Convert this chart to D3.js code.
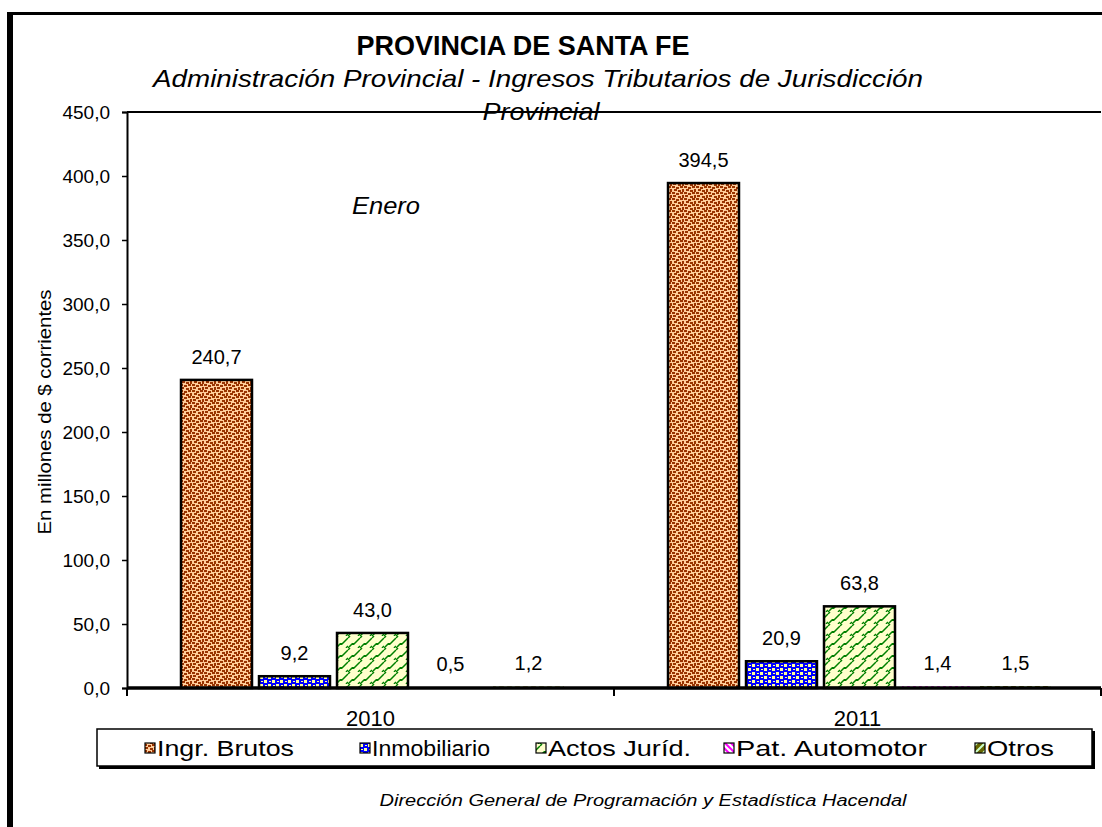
<!DOCTYPE html>
<html><head><meta charset="utf-8">
<script src="https://cdn.jsdelivr.net/npm/d3@7"></script>
<style>body{margin:0;background:#fff}svg{display:block}text{font-family:"Liberation Sans",Arial,sans-serif;fill:#000}</style>
</head><body>
<script>
const categories = ["2010", "2011"];
const series = ["Ingr. Brutos", "Inmobiliario", "Actos Juríd.", "Pat. Automotor", "Otros"];
const values2010 = [240.7, 9.2, 43.0, 0.5, 1.2];
const values2011 = [394.5, 20.9, 63.8, 1.4, 1.5];
const yTicks = [0, 50, 100, 150, 200, 250, 300, 350, 400, 450];
const title = "PROVINCIA DE SANTA FE";
const subtitle1 = "Administración Provincial - Ingresos Tributarios de Jurisdicción";
const subtitle2 = "Provincial";
const yLabel = "En millones de $ corrientes";
const note = "Enero";
const source = "Dirección General de Programación y Estadística Hacendal";

const W = 1102, H = 827;
const svg = d3.select("body").append("svg").attr("width", W).attr("height", H);
const defs = svg.append("defs");

// patterns
function pat(id, w, h, bg, draw) {
  const p = defs.append("pattern").attr("id", id).attr("patternUnits", "userSpaceOnUse").attr("width", w).attr("height", h);
  p.append("rect").attr("width", w).attr("height", h).attr("fill", bg);
  draw(p);
}
pat("pIngr", 12, 12, "#FFCC99", p => {
  [[0,0,3,2],[4,1,3,2],[8,0,3,2],[1,3,3,2],[6,4,3,2],[10,3,2,3],[0,6,3,2],[4,7,3,2],[8,6,3,2],[2,9,3,2],[6,10,3,2],[10,9,2,3]]
    .forEach(r => p.append("rect").attr("x", r[0]).attr("y", r[1]).attr("width", r[2]).attr("height", r[3]).attr("fill", "#993300"));
});
pat("pInmo", 8, 8, "#0000FF", p => {
  [[0,0,3,3],[4,4,3,3],[5,1,2,1],[1,5,2,1]].forEach(r => p.append("rect").attr("x", r[0]).attr("y", r[1]).attr("width", r[2]).attr("height", r[3]).attr("fill", "#FFFF99"));
});
pat("pActos", 12, 12, "#FFFFCC", p => {
  p.append("path").attr("d", "M0,12 L4,8 L6,8 L12,2 M10,12 L12,10 M0,2 L2,0").attr("stroke", "#008000").attr("stroke-width", 1.5).attr("fill", "none");
  p.append("rect").attr("x", 4).attr("y", 7).attr("width", 2).attr("height", 2).attr("fill", "#008000");
});
pat("pPat", 6, 6, "#FFFFFF", p => {
  p.append("path").attr("d", "M0,0 L6,6 M-1,5 L1,7 M5,-1 L7,1").attr("stroke", "#FF00FF").attr("stroke-width", 2);
});
pat("pOtros", 8, 8, "#666600", p => {
  p.append("path").attr("d", "M0,8 L8,0 M-1,1 L1,-1 M7,9 L9,7").attr("stroke", "#CCFFCC").attr("stroke-width", 2);
});
const fills = ["url(#pIngr)", "url(#pInmo)", "url(#pActos)", "url(#pPat)", "url(#pOtros)"];

function fitText(sel, len) {
  sel.attr("textLength", len).attr("lengthAdjust", "spacingAndGlyphs");
  return sel;
}

// outer frame
svg.append("rect").attr("x", 7).attr("y", 12).attr("width", 6).attr("height", H - 12).attr("fill", "#000");
svg.append("rect").attr("x", 7).attr("y", 12).attr("width", W - 7).attr("height", 3).attr("fill", "#000");

// plot area
const x0 = 127, x1 = 1101, yTop = 112, yBot = 688;
const y = d3.scaleLinear().domain([0, 450]).range([yBot, yTop]);
const xCat = d3.scaleBand().domain(categories).range([x0, x1]).padding(0);
const bw = xCat.bandwidth();
const xSer = d3.scaleBand().domain(series).range([bw * 0.0996 + 2, bw * 0.9004 + 2]).paddingInner(0.09).paddingOuter(0.045);

// titles
fitText(svg.append("text").attr("x", 523).attr("y", 55).attr("text-anchor", "middle")
  .attr("font-size", 28).attr("font-weight", "bold").text(title), 333);
fitText(svg.append("text").attr("x", 538).attr("y", 87).attr("text-anchor", "middle")
  .attr("font-size", 24).attr("font-style", "italic").text(subtitle1), 770);
fitText(svg.append("text").attr("x", 541).attr("y", 120).attr("text-anchor", "middle")
  .attr("font-size", 24).attr("font-style", "italic").text(subtitle2), 117);

// plot top border
svg.append("line").attr("x1", x0).attr("x2", x1).attr("y1", yTop).attr("y2", yTop).attr("stroke", "#000").attr("stroke-width", 2);

// y axis
const yAxis = d3.axisLeft(y).tickValues(yTicks).tickSize(5).tickPadding(12)
  .tickFormat(d => d3.format(".1f")(d).replace(".", ","));
const gy = svg.append("g").attr("transform", `translate(${x0},0)`).call(yAxis);
gy.select(".domain").attr("stroke", "#000").attr("stroke-width", 2);
gy.selectAll(".tick line").attr("stroke", "#000").attr("stroke-width", 1.5);
gy.selectAll(".tick text").attr("font-size", 19).attr("font-family", "Liberation Sans, Arial, sans-serif").attr("fill", "#000");

// y label
fitText(svg.append("text").attr("transform", `translate(51,412) rotate(-90)`).attr("text-anchor", "middle")
  .attr("font-size", 18).text(yLabel), 245);

// Enero
fitText(svg.append("text").attr("x", 352).attr("y", 214).attr("font-size", 23).attr("font-style", "italic").text(note), 68);

// bars
const data = categories.flatMap((c, ci) => series.map((s, si) => ({c, s, si, v: (ci === 0 ? values2010 : values2011)[si]})));
const bars = svg.append("g");
bars.selectAll("rect").data(data).join("rect")
  .attr("x", d => xCat(d.c) + xSer(d.s))
  .attr("y", d => y(d.v))
  .attr("width", xSer.bandwidth())
  .attr("height", d => yBot - y(d.v))
  .attr("fill", d => fills[d.si])
  .attr("stroke", d => (yBot - y(d.v)) < 4 ? "none" : "#000").attr("stroke-width", 2.5);

// value labels
svg.append("g").selectAll("text").data(data).join("text")
  .attr("x", d => xCat(d.c) + xSer(d.s) + xSer.bandwidth() / 2)
  .attr("y", d => y(d.v) - 16)
  .attr("text-anchor", "middle").attr("font-size", 20)
  .text(d => d3.format(".1f")(d.v).replace(".", ","));

// x axis
const xAxis = d3.axisBottom(xCat).tickSize(0).tickPadding(18);
const gx = svg.append("g").attr("transform", `translate(0,${yBot})`).call(xAxis);
gx.select(".domain").remove();
gx.selectAll(".tick text").attr("font-size", 22).attr("font-family", "Liberation Sans, Arial, sans-serif").attr("fill", "#000").attr("dy", "0.9em");
svg.append("line").attr("x1", x0).attr("x2", x1).attr("y1", yBot).attr("y2", yBot).attr("stroke", "#000").attr("stroke-width", 3.5);
[x0, xCat("2011"), x1].forEach(xx => svg.append("line").attr("x1", xx).attr("x2", xx).attr("y1", yBot).attr("y2", yBot + 8).attr("stroke", "#000").attr("stroke-width", 2));

// legend
const lg = svg.append("g");
lg.append("rect").attr("x", 99).attr("y", 731).attr("width", 996).attr("height", 38).attr("fill", "#000");
lg.append("rect").attr("x", 97).attr("y", 729).attr("width", 995).attr("height", 37).attr("fill", "#fff").attr("stroke", "#000").attr("stroke-width", 1.5);
const legX = [145, 360, 536, 724, 975];
const legTX = [157, 372, 548, 736, 987];
const legTW = [137, 118, 143, 191, 67];
series.forEach((s, i) => {
  lg.append("rect").attr("x", legX[i]).attr("y", 743).attr("width", 10).attr("height", 10)
    .attr("fill", fills[i]).attr("stroke", "#000").attr("stroke-width", 1.2);
  fitText(lg.append("text").attr("x", legTX[i]).attr("y", 756).attr("font-size", 22).text(s), legTW[i]);
});

// source
fitText(svg.append("text").attr("x", 643).attr("y", 806).attr("text-anchor", "middle")
  .attr("font-size", 16).attr("font-style", "italic").text(source), 527);
</script>
</body></html>
